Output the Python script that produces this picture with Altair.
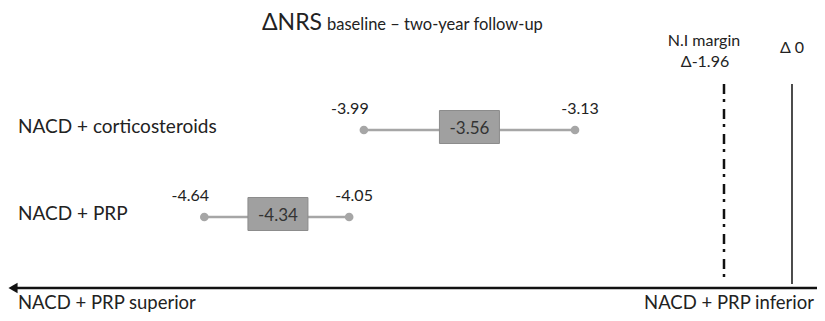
import altair as alt
import pandas as pd

# ---- data ----
groups = ["NACD + corticosteroids", "NACD + PRP"]
lower = [-3.99, -4.64]
estimate = [-3.56, -4.34]
upper = [-3.13, -4.05]

ref_values = [-1.96, 0.0]
ref_names = ["N.I margin", "Δ 0"]

title_main = "ΔNRS"
title_sub = "baseline – two-year follow-up"
ni_label = ["N.I margin", "Δ-1.96"]
zero_label = "Δ 0"
left_label = "NACD + PRP superior"
right_label = "NACD + PRP inferior"

FONT = "Lato"
W, H = 809, 305

df = pd.DataFrame({"group": groups, "lower": lower, "estimate": estimate, "upper": upper})
df["lo_txt"] = [f"{v:.2f}" for v in lower]
df["hi_txt"] = [f"{v:.2f}" for v in upper]
df["est_txt"] = [f"{v:.2f}" for v in estimate]

xs = alt.Scale(domain=[-5.4396, -2.1443], nice=False, zero=False)
ys = alt.Scale(type="point", domain=groups, range=[122, 209], padding=0)
Y = alt.Y("group:N", scale=ys, axis=None)

base = alt.Chart(df)

whisker = base.mark_rule(color="#a6a6a6", strokeWidth=2.5).encode(
    x=alt.X("lower:Q", scale=xs, axis=None), x2="upper:Q", y=Y
)
dot_lo = base.mark_circle(size=75, color="#a6a6a6", opacity=1).encode(
    x=alt.X("lower:Q", scale=xs, axis=None), y=Y
)
dot_hi = base.mark_circle(size=75, color="#a6a6a6", opacity=1).encode(
    x=alt.X("upper:Q", scale=xs, axis=None), y=Y
)
box = base.mark_point(
    shape="M-1,-0.55L1,-0.55L1,0.55L-1,0.55Z", size=3600, filled=True,
    fill="#a0a0a0", stroke="#8c8c8c", strokeWidth=1, opacity=1, yOffset=-3
).encode(x=alt.X("estimate:Q", scale=xs, axis=None), y=Y)
box_txt = base.mark_text(font=FONT, fontSize=17, color="#333333", baseline="middle", dy=-1).encode(
    x=alt.X("estimate:Q", scale=xs, axis=None), y=Y, text="est_txt:N"
)
lo_txt = base.mark_text(font=FONT, fontSize=16, color="#222222", baseline="middle", dx=-14, dy=-21).encode(
    x=alt.X("lower:Q", scale=xs, axis=None), y=Y, text="lo_txt:N"
)
hi_txt = base.mark_text(font=FONT, fontSize=16, color="#222222", baseline="middle", dx=5, dy=-21).encode(
    x=alt.X("upper:Q", scale=xs, axis=None), y=Y, text="hi_txt:N"
)
row_txt = base.mark_text(font=FONT, fontSize=19, color="#222222", align="left", baseline="alphabetic", dy=3).encode(
    x=alt.value(10), y=Y, text="group:N"
)

# reference lines on their own (schematic) scale
rs = alt.Scale(domain=[-22.597, 0.7206], nice=False, zero=False)
ref_df = pd.DataFrame({"v": ref_values, "name": ref_names})
ni_line = alt.Chart(ref_df.iloc[[0]]).mark_rule(
    color="#111111", strokeWidth=2.5, strokeDash=[10, 5, 3, 7]
).encode(x=alt.X("v:Q", scale=rs, axis=None), y=alt.value(76), y2=alt.value(272))
zero_line = alt.Chart(ref_df.iloc[[1]]).mark_rule(
    color="#111111", strokeWidth=1.5
).encode(x=alt.X("v:Q", scale=rs, axis=None), y=alt.value(76), y2=alt.value(276))

def label(text, x, y, size, align="center", color="#222222"):
    return alt.Chart(pd.DataFrame({"t": [text]})).mark_text(
        font=FONT, fontSize=size, align=align, baseline="alphabetic", color=color
    ).encode(x=alt.value(x), y=alt.value(y), text="t:N")

t1 = label(title_main, 254, 22, 23, align="left")
t2 = label(title_sub, 319, 22, 16.5, align="left")
n1 = label(ni_label[0], 696, 38, 16)
n2 = label(ni_label[1], 697, 59, 16)
z1 = label(zero_label, 784, 45, 16)
bl = label(left_label, 10, 301, 18.5, align="left")
br = label(right_label, 806, 301, 18.5, align="right")

arrow_line = alt.Chart(pd.DataFrame({"a": [0]})).mark_rule(color="#111111", strokeWidth=2.5).encode(
    x=alt.value(6), x2=alt.value(W), y=alt.value(280)
)
arrow_head = alt.Chart(pd.DataFrame({"a": [0]})).mark_point(
    shape="triangle-left", size=110, filled=True, color="#111111", opacity=1
).encode(x=alt.value(5), y=alt.value(280))

chart = alt.layer(
    whisker, dot_lo, dot_hi, box, box_txt, lo_txt, hi_txt, row_txt,
    ni_line, zero_line, t1, t2, n1, n2, z1, bl, br, arrow_line, arrow_head
).resolve_scale(x="independent").properties(
    width=W, height=H, padding=0, autosize=alt.AutoSizeParams(type="none"), background="white"
).configure_view(strokeWidth=0)

chart.save("out.html", embed_options={"renderer": "svg", "actions": False})
